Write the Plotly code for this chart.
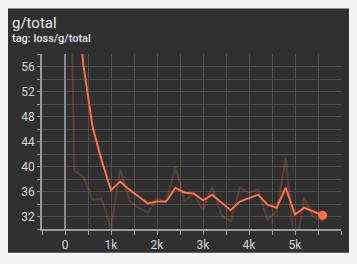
import plotly.graph_objects as go

steps = [0, 200, 400, 600, 800, 1000, 1200, 1400, 1600, 1800, 2000, 2200, 2400, 2600,
         2800, 3000, 3200, 3400, 3600, 3800, 4000, 4200, 4400, 4600, 4800, 5000, 5200,
         5400, 5600]
raw_values = [130, 39.35, 38.3, 34.7, 34.85, 30.0, 39.6, 34.5, 33.4, 32.6, 34.9, 34.4,
              39.9, 34.5, 35.65, 33.0, 36.8, 32.2, 31.25, 36.55, 35.8, 36.3, 31.5, 32.75,
              41.4, 25.9, 35.0, 31.85, 31.4]
smoothed_values = [130, 73, 56.2, 46.3, 40.9, 36.2, 37.6, 36.3, 35.2, 34.1, 34.4, 34.4,
                   36.6, 35.8, 35.7, 34.6, 35.5, 34.2, 33.0, 34.4, 35.0, 35.5, 33.9, 33.4,
                   36.6, 32.3, 33.4, 32.8, 32.2]
x_tick_vals = [0, 1000, 2000, 3000, 4000, 5000]
x_tick_text = ["0", "1k", "2k", "3k", "4k", "5k"]
title_text = "g/total"
subtitle_text = "tag: loss/g/total"

W, H = 357, 264
ML, MR, MT, MB = 42, 16, 54, 33
PW, PH = W - ML - MR, H - MT - MB

def px(x):
    return (x - ML) / PW

def py(y):
    return (H - MB - y) / PH

ORANGE = "#ff7043"
CARD = "#303030"
GRID = "#4e4e4e"
TXT = "#d6d6d6"

fig = go.Figure()
fig.add_trace(go.Scatter(x=steps, y=raw_values, mode="lines",
                         line=dict(color=ORANGE, width=2), opacity=0.22,
                         hoverinfo="skip", showlegend=False))
fig.add_trace(go.Scatter(x=steps, y=smoothed_values, mode="lines",
                         line=dict(color=ORANGE, width=2), showlegend=False))
fig.add_trace(go.Scatter(x=[steps[-1]], y=[smoothed_values[-1]], mode="markers",
                         marker=dict(color=ORANGE, size=9), showlegend=False))

fig.add_shape(type="rect", xref="paper", yref="paper",
              x0=px(8), x1=px(349), y0=py(255), y1=py(8),
              fillcolor=CARD, line=dict(width=0), layer="below")

fig.add_annotation(text=title_text, xref="paper", yref="paper", x=px(10), y=py(12),
                   xanchor="left", yanchor="top", showarrow=False,
                   font=dict(family="Roboto", size=15, color="#ececec"))
fig.add_annotation(text=subtitle_text, xref="paper", yref="paper", x=px(10), y=py(30),
                   xanchor="left", yanchor="top", showarrow=False,
                   font=dict(family="Roboto", size=11, color="#e6e6e6", weight=500))

fig.update_layout(
    width=W, height=H,
    margin=dict(l=ML, r=MR, t=MT, b=MB, pad=0),
    paper_bgcolor="#f4f4f4",
    plot_bgcolor="rgba(0,0,0,0)",
    font=dict(family="Roboto", size=12, color=TXT),
    xaxis=dict(range=[-500, 6000], tickvals=x_tick_vals, ticktext=x_tick_text,
               showgrid=True, gridcolor=GRID, gridwidth=1,
               zeroline=True, zerolinecolor="#8a8a8a", zerolinewidth=1.5,
               showline=True, linecolor="#9a9a9a", linewidth=1.5,
               ticks="outside", ticklen=4, tickcolor="#9a9a9a",
               minor=dict(dtick=500, tick0=0, showgrid=True, gridcolor=GRID,
                          ticks="outside", ticklen=4, tickcolor="#9a9a9a"),
               tickfont=dict(size=12, color=TXT), fixedrange=True),
    yaxis=dict(range=[30, 58], dtick=4, tick0=32,
               showgrid=True, gridcolor=GRID, gridwidth=1, zeroline=False,
               showline=True, linecolor="#9a9a9a", linewidth=1.5,
               ticks="outside", ticklen=3, tickcolor="#9a9a9a",
               minor=dict(dtick=2, tick0=30, showgrid=True, gridcolor=GRID,
                          ticks="outside", ticklen=3, tickcolor="#9a9a9a"),
               tickfont=dict(size=12, color=TXT), fixedrange=True),
)

fig.write_html("out.html", config={"displayModeBar": False})
